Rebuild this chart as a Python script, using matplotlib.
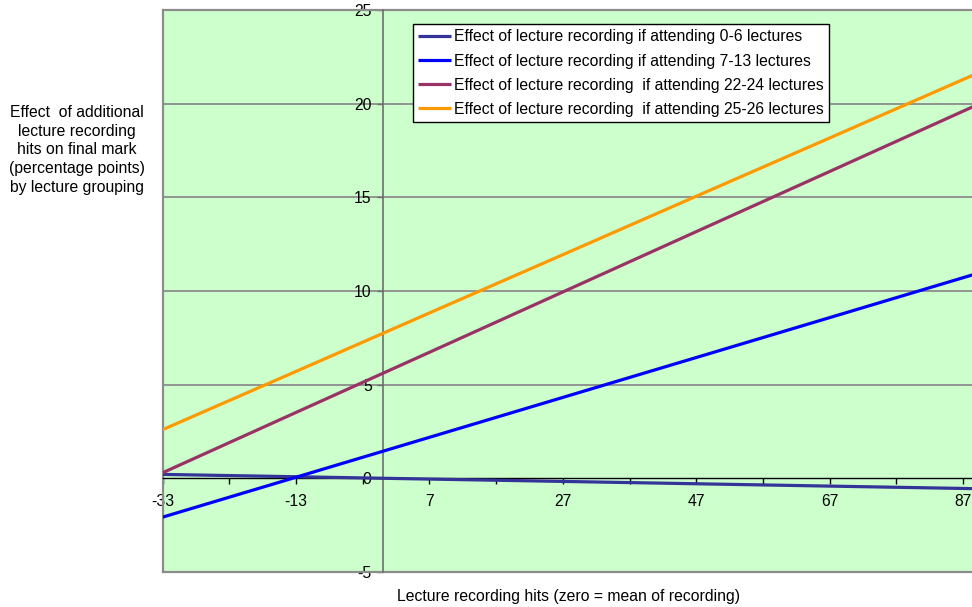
import matplotlib
matplotlib.use("Agg")
import matplotlib.pyplot as plt
from matplotlib.ticker import FixedLocator

plt.rcParams['font.family'] = ['Liberation Sans', 'DejaVu Sans']
plt.rcParams['axes.unicode_minus'] = False

# Data
hits = [-33, -13, 7, 27, 47, 67, 87, 97]
eff_0_6 = [0.21, 0.085, -0.04, -0.165, -0.29, -0.415, -0.54, -0.60]
eff_7_13 = [-2.07, 0.06, 2.19, 4.32, 6.45, 8.58, 10.71, 11.78]
eff_22_24 = [0.30, 3.52, 6.73, 9.95, 13.17, 16.38, 19.60, 21.20]
eff_25_26 = [2.60, 5.71, 8.83, 11.94, 15.06, 18.17, 21.29, 22.85]

labels = [
    "Effect of lecture recording if attending 0-6 lectures",
    "Effect of lecture recording if attending 7-13 lectures",
    "Effect of lecture recording  if attending 22-24 lectures",
    "Effect of lecture recording  if attending 25-26 lectures",
]
colors = ["#333399", "#0000FF", "#993366", "#FF9900"]

x_major = [-33, -13, 7, 27, 47, 67, 87]
x_minor = [-23, -3, 17, 37, 57, 77, 97]
y_ticks = [-5, 0, 5, 10, 15, 20, 25]

W, H = 972, 607
fig = plt.figure(figsize=(W / 100, H / 100), dpi=100)
left_px, top_px, bottom_px = 162.7, 10, 572
xmin, xmax = -33, 97
px_per_unit = 6.67
width_px = (xmax - xmin) * px_per_unit
ax = fig.add_axes([left_px / W, (H - bottom_px) / H, width_px / W, (bottom_px - top_px) / H])
ax.set_facecolor("#CCFFCC")
ax.set_xlim(xmin, xmax)
ax.set_ylim(-5, 25)

for yv in [5, 10, 15, 20]:
    ax.axhline(yv, color="#8C8C8C", lw=1.3, zorder=1)

fs = 11.3
for series, lab, col in zip([eff_0_6, eff_7_13, eff_22_24, eff_25_26], labels, colors):
    ax.plot(hits, series, color=col, lw=2.3, label=lab, zorder=3, solid_capstyle='butt')

# Spines
ax.spines['left'].set_position(('data', 0))
ax.spines['left'].set_color('#6E6E6E')
ax.spines['left'].set_linewidth(1.2)
ax.spines['bottom'].set_position(('data', 0))
ax.spines['bottom'].set_color('black')
ax.spines['bottom'].set_linewidth(1.0)
ax.spines['right'].set_visible(False)
ax.spines['top'].set_visible(False)

# Plot area border (gray)
ax.plot([0, 0], [0, 1], transform=ax.transAxes, color='#8C8C8C', lw=1.6, clip_on=False, zorder=2)
ax.plot([0, 1], [1, 1], transform=ax.transAxes, color='#8C8C8C', lw=1.6, clip_on=False, zorder=2)
ax.plot([0, 1], [0, 0], transform=ax.transAxes, color='#8C8C8C', lw=1.6, clip_on=False, zorder=2)

ax.xaxis.set_major_locator(FixedLocator(x_major))
ax.xaxis.set_minor_locator(FixedLocator(x_minor))
ax.set_xticklabels([str(v) for v in x_major])
ax.tick_params(axis='x', which='both', direction='out', length=4, width=1, color='black',
               labelsize=fs, pad=7.5)
ax.set_yticks(y_ticks)
ax.set_yticklabels([str(v) for v in y_ticks])
ax.tick_params(axis='y', direction='out', length=4, width=1, color='#6E6E6E',
               labelsize=fs, pad=4)

leg = ax.legend(loc='upper left', bbox_to_anchor=((413 - left_px) / width_px, (bottom_px - 24) / (bottom_px - top_px)),
                borderaxespad=0, fontsize=fs, frameon=True, fancybox=False, framealpha=1,
                edgecolor='black', facecolor='white', handlelength=2.1, handletextpad=0.15,
                labelspacing=0.58, borderpad=0.35)
leg.get_frame().set_linewidth(1.0)
leg.set_zorder(5)

fig.text(77 / W, 1 - 150 / H,
         "Effect  of additional\nlecture recording\nhits on final mark\n(percentage points)\nby lecture grouping",
         ha='center', va='center', fontsize=fs, linespacing=1.3)
fig.text(568 / W, 1 - 596 / H, "Lecture recording hits (zero = mean of recording)",
         ha='center', va='center', fontsize=fs)

fig.savefig("out.png", dpi=100)
